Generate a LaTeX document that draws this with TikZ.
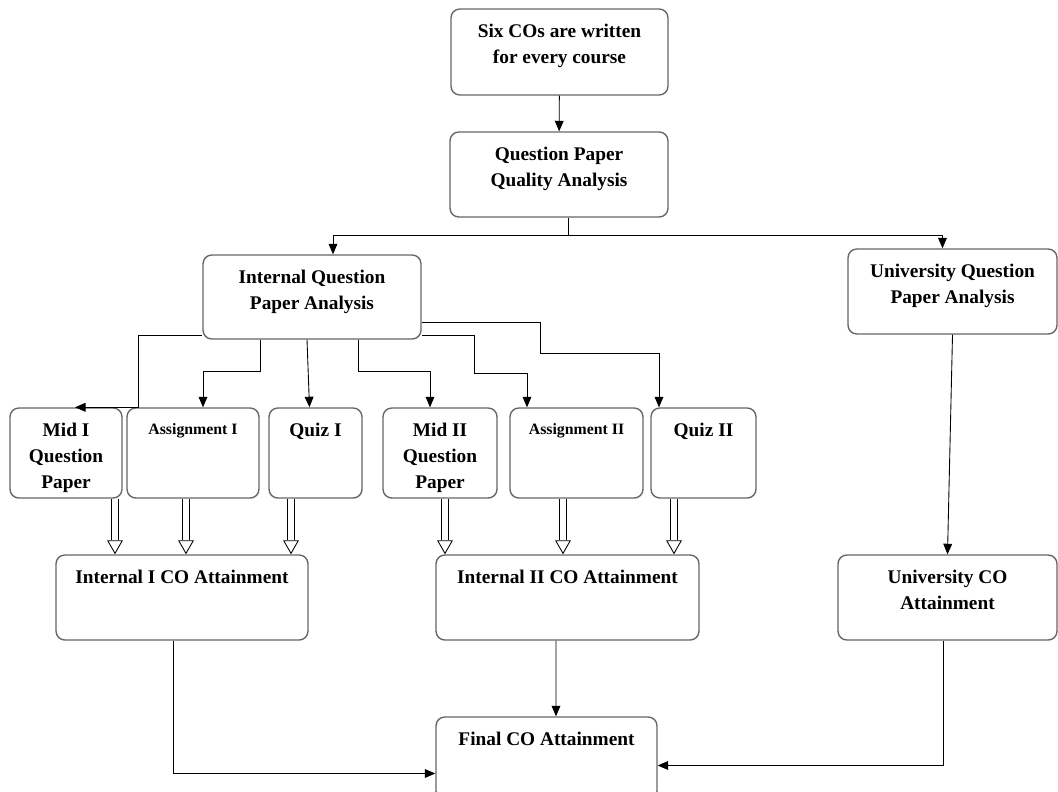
\documentclass[tikz,border=0pt]{standalone}
\usepackage{fontspec}
\setmainfont{Liberation Serif}
\usetikzlibrary{arrows.meta,calc}
\tikzset{
  box/.style={draw=black!60, rounded corners=5pt, line width=0.8pt, fill=white},
  txt/.style={font=\bfseries\fontsize{11}{14.7}\selectfont, align=center, inner sep=0pt},
  stxt/.style={font=\bfseries\fontsize{9}{11}\selectfont, align=center, inner sep=0pt},
  arr/.style={-{Triangle[length=6pt,width=5pt]}, line width=0.5pt},
  dbl/.style={double, double distance=3pt, line width=0.5pt, -{Triangle[open,length=8pt,width=9pt]}},
}
\begin{document}
\begin{tikzpicture}[x=0.02cm, y=-0.02cm]
	\useasboundingbox (0,0) rectangle (1058,791);
	% top boxes
	\node[box, minimum width=4.34cm, minimum height=1.72cm, label={[txt, below=9pt]north:Six COs are written\\for every course}] (six) at (559.5,52) {};
	\node[box, minimum width=4.36cm, minimum height=1.70cm, label={[txt, below=9pt]north:Question Paper\\Quality Analysis}] (qpqa) at (559,174.5) {};
	\node[box, minimum width=4.36cm, minimum height=1.68cm, label={[txt, below=9pt]north:Internal Question\\Paper Analysis}] (iqpa) at (312,297) {};
	\node[box, minimum width=4.18cm, minimum height=1.70cm, label={[txt, below=9pt]north:University Question\\Paper Analysis}] (uqpa) at (952.5,291.5) {};
	% tasks
	\node[box, minimum width=2.24cm, minimum height=1.80cm, label={[txt, below=9pt]north:Mid I\\Question\\Paper}] (mid1) at (66,453) {};
	\node[box, minimum width=2.64cm, minimum height=1.80cm, label={[stxt, below=9pt]north:Assignment I}] (asg1) at (193,453) {};
	\node[box, minimum width=1.86cm, minimum height=1.80cm, label={[txt, below=9pt]north:Quiz I}] (quiz1) at (315.5,453) {};
	\node[box, minimum width=2.28cm, minimum height=1.80cm, label={[txt, below=9pt]north:Mid II\\Question\\Paper}] (mid2) at (440,453) {};
	\node[box, minimum width=2.66cm, minimum height=1.80cm, label={[stxt, below=9pt]north:Assignment II}] (asg2) at (576.5,453) {};
	\node[box, minimum width=2.10cm, minimum height=1.80cm, label={[txt, below=9pt]north:Quiz II}] (quiz2) at (703.5,453) {};
	% attainment
	\node[box, minimum width=5.04cm, minimum height=1.70cm, label={[txt, below=9pt]north:Internal I CO Attainment}] (int1) at (182,597.5) {};
	\node[box, minimum width=5.26cm, minimum height=1.70cm, label={[txt, below=9pt]north:Internal II CO Attainment}] (int2) at (567.5,597.5) {};
	\node[box, minimum width=4.38cm, minimum height=1.70cm, label={[txt, below=9pt]north:University CO\\Attainment}] (univ) at (947.5,597.5) {};
	\node[box, minimum width=4.42cm, minimum height=1.66cm, label={[txt, below=9pt]north:Final CO Attainment}] (final) at (546.5,758.5) {};

	\draw[arr] (six) -- (qpqa);
	\coordinate (split) at (568,235);
	\draw[line width=0.5pt] (split |- qpqa.south) -- (split);
	\draw[arr] (split) -| ($(iqpa.north)+(21,0)$);
	\draw[arr] (split) -| ($(uqpa.north)+(-10,0)$);
	\draw[arr] (uqpa.south) -- (univ.north);

	\draw[arr] ($(iqpa.west)+(0,38)$) -| ($(mid1.north east)+(16,0)$) -- ($(mid1.north)+(9,0)$);
	\draw[arr] ($(iqpa.south)+(-52,0)$) -- ++(0,32) -| ($(asg1.north)+(10,0)$);
	\draw[arr] ($(iqpa.south)+(-5,0)$) -- ($(quiz1.north)+(-6,0)$);
	\draw[arr] ($(iqpa.south)+(46,0)$) -- ++(0,32) -| ($(mid2.north)+(-10,0)$);
	\draw[arr] ($(iqpa.east)+(0,38)$) -- ++(53,0) -- ++(0,38) -| ($(asg2.north)+(-49.5,0)$);
	\draw[arr] ($(iqpa.east)+(0,25)$) -- ++(119,0) -- ++(0,31) -| ($(quiz2.north)+(-44.5,0)$);

	\draw[dbl] ($(mid1.south)+(49,0)$) coordinate (d1) -- (d1 |- int1.north);
	\draw[dbl] ($(asg1.south)+(-7,0)$) coordinate (d2) -- (d2 |- int1.north);
	\draw[dbl] ($(quiz1.south)+(-24.5,0)$) coordinate (d3) -- (d3 |- int1.north);
	\draw[dbl] ($(mid2.south)+(5,0)$) coordinate (d4) -- (d4 |- int2.north);
	\draw[dbl] ($(asg2.south)+(-13.5,0)$) coordinate (d5) -- (d5 |- int2.north);
	\draw[dbl] ($(quiz2.south)+(-29.5,0)$) coordinate (d6) -- (d6 |- int2.north);

	\draw[arr] ($(int1.south)+(-9,0)$) |- ($(final.west)+(0,15)$);
	\draw[arr] ($(int2.south)+(-11.5,0)$) -- ($(final.north)+(9.5,0)$);
	\draw[arr] ($(univ.south)+(-4.5,0)$) |- ($(final.east)+(0,7)$);
\end{tikzpicture}
\end{document}
